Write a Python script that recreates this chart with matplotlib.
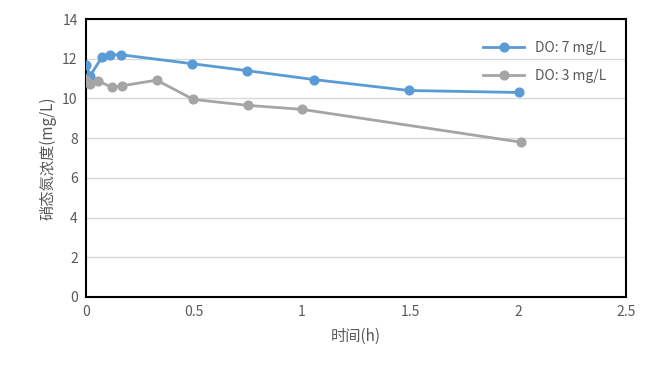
import matplotlib
matplotlib.use("Agg")
import matplotlib.pyplot as plt

plt.rcParams['font.family'] = ['Noto Sans CJK SC', 'DejaVu Sans']

t_do7 = [0, 0.019, 0.075, 0.111, 0.162, 0.49, 0.745, 1.055, 1.495, 2.005]
n_do7 = [11.7, 11.15, 12.1, 12.2, 12.2, 11.75, 11.4, 10.95, 10.4, 10.3]
t_do3 = [0, 0.02, 0.054, 0.118, 0.168, 0.327, 0.497, 0.75, 1.0, 2.012]
n_do3 = [10.92, 10.75, 10.9, 10.56, 10.64, 10.92, 9.95, 9.65, 9.45, 7.8]
labels = ["DO: 7 mg/L", "DO: 3 mg/L"]

fig = plt.figure(figsize=(6.62, 3.78), dpi=100)
ax = fig.add_axes([0.130, 0.2143, 0.8156, 0.7354])

blue = "#5B9BD5"
gray = "#A5A5A5"
ax.plot(t_do7, n_do7, color=blue, lw=2, marker='o', ms=6.3, label=labels[0], zorder=3)
ax.plot(t_do3, n_do3, color=gray, lw=2, marker='o', ms=6.3, label=labels[1], zorder=3)

ax.set_xlim(0, 2.5)
ax.set_ylim(0, 14)
ax.set_xticks([0, 0.5, 1, 1.5, 2, 2.5])
ax.set_xticklabels(["0", "0.5", "1", "1.5", "2", "2.5"])
ax.set_yticks(range(0, 15, 2))
ax.yaxis.grid(True, color="#D9D9D9", lw=1)
ax.set_axisbelow(True)
ax.tick_params(length=0, labelsize=10, labelcolor="#595959", pad=6)
for s in ax.spines.values():
    s.set_color("black")
    s.set_linewidth(1.5)

ax.set_xlabel("时间(h)", fontsize=11, color="#595959", labelpad=6)
ax.set_ylabel("硝态氮浓度(mg/L)", fontsize=11, color="#595959", labelpad=4)

leg = ax.legend(loc="upper right", bbox_to_anchor=(0.99, 0.97), frameon=False,
                fontsize=10, labelcolor="#595959",
                handlelength=3, borderaxespad=0.6, labelspacing=1.0)

fig.savefig("out.png", dpi=100)
